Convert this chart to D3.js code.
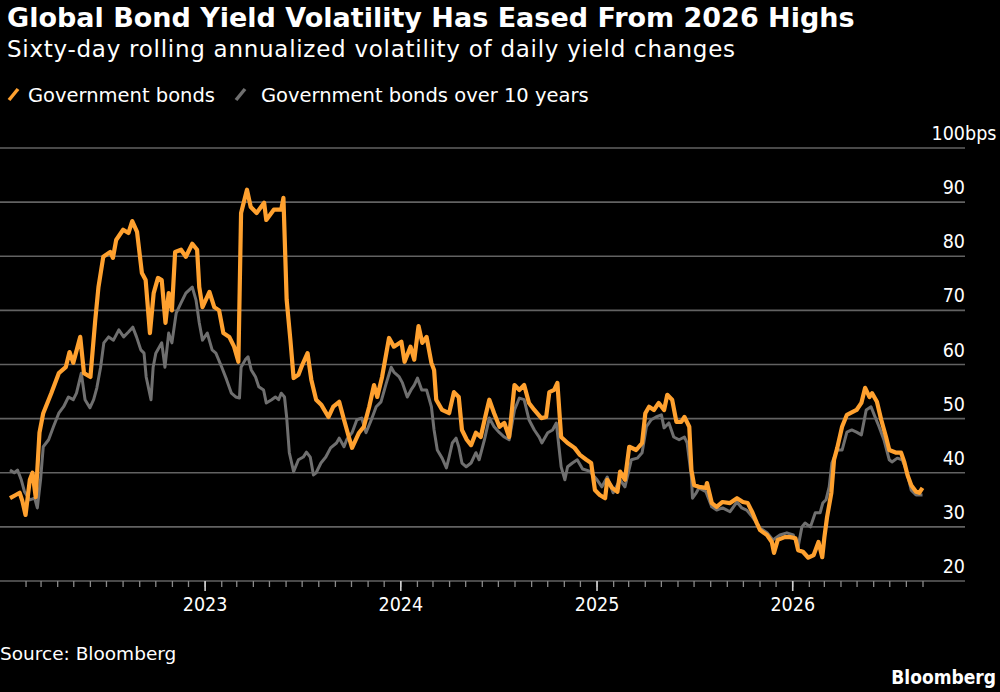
<!DOCTYPE html>
<html>
<head>
<meta charset="utf-8">
<script src="https://cdn.jsdelivr.net/npm/d3@7"></script>
<style>
  html, body { margin: 0; padding: 0; background: #000; }
  svg { display: block; }
  text { font-family: "DejaVu Sans Condensed", "DejaVu Sans", sans-serif; font-stretch: condensed; fill: #fff; }
  text.wide { font-family: "DejaVu Sans", sans-serif; font-stretch: normal; }
</style>
</head>
<body>
<svg width="1000" height="692"></svg>
<script>
// values (bps)
const govBonds = [
  ['2022-01-03',35.3],['2022-01-12',35.8],['2022-01-21',36.3],['2022-01-26',34.8],['2022-02-01',32.2],['2022-02-09',38.7],
  ['2022-02-14',40],['2022-02-20',35.5],['2022-02-27',47.4],['2022-03-06',51],['2022-03-21',54.7],['2022-04-04',58.4],
  ['2022-04-17',59.5],['2022-04-24',62.3],['2022-05-01',60.3],['2022-05-14',65.1],['2022-05-21',58.4],['2022-06-02',57.7],
  ['2022-06-11',68.2],['2022-06-17',74.3],['2022-06-26',79.9],['2022-07-09',80.8],['2022-07-14',79.7],['2022-07-20',83],
  ['2022-08-02',84.9],['2022-08-12',84.3],['2022-08-19',86.5],['2022-08-28',84.5],['2022-09-06',76.9],['2022-09-13',75.6],
  ['2022-09-21',65.8],['2022-09-28',73.2],['2022-10-06',76],['2022-10-13',75.6],['2022-10-20',67.7],['2022-10-26',73.2],
  ['2022-11-01',70],['2022-11-07',80.8],['2022-11-18',81.2],['2022-11-27',79.9],['2022-12-09',82.3],['2022-12-18',81.2],
  ['2022-12-22',74.3],['2022-12-28',70.6],['2023-01-10',73.4],['2023-01-19',70.6],['2023-01-28',70],['2023-02-05',65.8],
  ['2023-02-16',65.1],['2023-02-25',63.3],['2023-03-05',60.5],['2023-03-10',88],['2023-03-21',92.3],['2023-03-28',89.1],
  ['2023-04-08',88],['2023-04-22',89.9],['2023-04-26',86.7],['2023-05-10',88.6],['2023-05-24',88.6],['2023-05-28',90.8],
  ['2023-06-03',72],['2023-06-10',64.5],['2023-06-16',57.5],['2023-06-25',58.1],['2023-07-02',59.9],['2023-07-12',62.1],
  ['2023-07-19',57.2],['2023-07-28',53.5],['2023-08-07',52.5],['2023-08-20',50.3],['2023-08-29',52.2],['2023-09-09',53.1],
  ['2023-09-18',49.8],['2023-09-27',46.6],['2023-10-03',44.6],['2023-10-16',47.4],['2023-10-25',48.5],['2023-11-04',52.2],
  ['2023-11-13',56.2],['2023-11-19',54],['2023-11-28',57.7],['2023-12-11',64.9],['2023-12-20',63.3],['2024-01-03',64.2],
  ['2024-01-09',60.5],['2024-01-20',63.3],['2024-01-27',60.9],['2024-02-04',67.1],['2024-02-11',64],['2024-02-19',65.1],
  ['2024-02-28',60.3],['2024-03-04',59],['2024-03-08',53.5],['2024-03-19',51.6],['2024-04-01',51],['2024-04-10',54.9],
  ['2024-04-19',54],['2024-04-25',47.9],['2024-05-04',46.1],['2024-05-12',45.1],['2024-05-21',47.4],['2024-05-30',46.6],
  ['2024-06-09',51],['2024-06-15',53.5],['2024-06-24',51],['2024-07-04',48.5],['2024-07-13',49.2],['2024-07-22',46.6],
  ['2024-08-01',56.2],['2024-08-10',55.3],['2024-08-19',56.2],['2024-08-28',52.9],['2024-09-07',51.6],['2024-09-20',50.1],
  ['2024-09-29',50.3],['2024-10-05',54.9],['2024-10-14',55.3],['2024-10-20',56.6],['2024-10-27',46.6],['2024-11-08',45.5],
  ['2024-11-21',44.6],['2024-12-01',43.3],['2024-12-13',42.4],['2024-12-22',41.8],['2024-12-29',36.8],['2025-01-07',35.9],
  ['2025-01-17',35.3],['2025-01-21',38.7],['2025-01-30',37.2],['2025-02-09',36.5],['2025-02-14',40.2],['2025-02-23',38.7],
  ['2025-03-03',44.8],['2025-03-16',44.2],['2025-03-27',45.5],['2025-04-02',51],['2025-04-09',52.2],['2025-04-18',51.6],
  ['2025-04-27',52.9],['2025-05-07',51.6],['2025-05-13',54.4],['2025-05-22',53.5],['2025-05-30',49.4],['2025-06-08',49.4],
  ['2025-06-14',50.3],['2025-06-23',48.5],['2025-06-27',40.5],['2025-07-02',37.7],['2025-07-11',37.4],['2025-07-24',37.2],
  ['2025-07-26',38.1],['2025-08-04',34.4],['2025-08-13',33.7],['2025-08-24',34.6],['2025-09-07',34.4],['2025-09-20',35.3],
  ['2025-10-01',34.6],['2025-10-10',34.4],['2025-10-19',32.6],['2025-10-27',30.7],['2025-11-02',29.4],['2025-11-15',28.5],
  ['2025-11-24',27.2],['2025-11-28',25.2],['2025-12-05',27.6],['2025-12-18',28.1],['2025-12-28',28.1],['2026-01-07',27.9],
  ['2026-01-12',25.7],['2026-01-21',25.4],['2026-01-31',24.3],['2026-02-10',24.8],['2026-02-19',27.2],['2026-02-26',24.4],
  ['2026-03-02',28.1],['2026-03-07',31.8],['2026-03-15',36.3],['2026-03-20',42.4],['2026-03-26',44.6],['2026-04-04',48.5],
  ['2026-04-13',50.7],['2026-05-01',51.6],['2026-05-10',52.9],['2026-05-17',55.7],['2026-05-25',54],['2026-05-30',54.7],
  ['2026-06-08',53.1],['2026-06-16',49.8],['2026-06-25',46.6],['2026-07-01',44.2],['2026-07-14',43.7],['2026-07-23',43.7],
  ['2026-07-29',42],['2026-08-04',39.6],['2026-08-11',37.7],['2026-08-20',36.5],['2026-08-26',36.3],['2026-09-01',37.2]
]

const govBonds10y = [
  ['2022-01-03',40.5],['2022-01-11',40],['2022-01-17',40.5],['2022-01-24',38.7],['2022-01-30',36.5],['2022-02-09',35],
  ['2022-02-18',35.3],['2022-02-23',33.5],['2022-03-01',38.7],['2022-03-06',44.8],['2022-03-16',46.1],['2022-03-25',48.5],
  ['2022-04-04',51],['2022-04-13',52.2],['2022-04-22',54],['2022-05-01',53.5],['2022-05-07',54.7],['2022-05-16',58.4],
  ['2022-05-23',53.5],['2022-06-01',52],['2022-06-08',53.5],['2022-06-14',55.7],['2022-06-21',59.5],['2022-06-27',64],
  ['2022-07-06',65.1],['2022-07-15',64.5],['2022-07-25',66.4],['2022-08-03',65.1],['2022-08-12',66],['2022-08-20',66.9],
  ['2022-08-27',65.1],['2022-09-04',62.7],['2022-09-10',62.1],['2022-09-14',57.7],['2022-09-23',53.5],['2022-09-27',59.5],
  ['2022-10-02',62.1],['2022-10-13',64],['2022-10-19',59.5],['2022-10-26',65.8],['2022-11-01',64],['2022-11-09',69.5],
  ['2022-11-18',71.4],['2022-11-27',73.2],['2022-12-09',74.3],['2022-12-16',71.9],['2022-12-22',67.7],['2022-12-28',64.5],
  ['2023-01-06',65.8],['2023-01-15',62.7],['2023-01-22',62.1],['2023-02-02',59.5],['2023-02-11',57.2],['2023-02-20',54.7],
  ['2023-02-28',54],['2023-03-07',53.8],['2023-03-10',59.5],['2023-03-18',60.9],['2023-03-23',61.4],['2023-03-29',59],
  ['2023-04-06',57.7],['2023-04-12',55.9],['2023-04-21',55.3],['2023-04-26',52.9],['2023-05-06',53.5],['2023-05-13',54],
  ['2023-05-19',53.5],['2023-05-24',54.7],['2023-05-30',54],['2023-06-03',50.3],['2023-06-08',43.7],['2023-06-16',40.2],
  ['2023-06-25',42.4],['2023-07-04',42.9],['2023-07-10',43.8],['2023-07-17',42.9],['2023-07-23',39.6],['2023-07-28',40],
  ['2023-08-06',41.8],['2023-08-15',42.9],['2023-08-24',44.6],['2023-09-04',45.5],['2023-09-09',46.4],['2023-09-18',44.8],
  ['2023-09-23',46.1],['2023-10-03',47.4],['2023-10-12',49.8],['2023-10-21',50.1],['2023-10-29',47.4],['2023-11-08',49.8],
  ['2023-11-17',52.2],['2023-11-26',53.1],['2023-12-06',56.6],['2023-12-15',59.5],['2023-12-20',58.6],['2023-12-30',57.7],
  ['2024-01-05',56.6],['2024-01-14',54],['2024-01-21',55.3],['2024-01-27',56.2],['2024-02-02',57.5],['2024-02-10',55.3],
  ['2024-02-19',55.3],['2024-02-28',52.2],['2024-03-04',47.9],['2024-03-10',44.2],['2024-03-19',42.7],['2024-03-27',40.9],
  ['2024-04-01',42.9],['2024-04-07',45.5],['2024-04-14',46.4],['2024-04-19',44.8],['2024-04-25',41.8],['2024-05-03',41.1],
  ['2024-05-12',41.8],['2024-05-21',43.7],['2024-05-27',42.4],['2024-06-06',46.1],['2024-06-15',50.1],['2024-06-24',48.5],
  ['2024-07-04',47.4],['2024-07-13',46.6],['2024-07-22',46.1],['2024-08-01',51.6],['2024-08-10',53.8],['2024-08-19',53.5],
  ['2024-08-28',49.8],['2024-09-07',47.9],['2024-09-16',46.6],['2024-09-21',45.5],['2024-10-02',47.4],['2024-10-11',47.9],
  ['2024-10-18',49.2],['2024-10-27',41.1],['2024-11-03',38.7],['2024-11-08',41.1],['2024-11-17',41.8],['2024-11-26',42.4],
  ['2024-12-06',40.7],['2024-12-19',40.3],['2025-01-02',38.7],['2025-01-11',37.4],['2025-01-21',39.2],['2025-02-01',36.3],
  ['2025-02-14',38.7],['2025-02-23',37.4],['2025-03-07',42.4],['2025-03-18',42.7],['2025-03-27',43.7],['2025-04-04',48.5],
  ['2025-04-13',49.8],['2025-04-22',50.3],['2025-05-02',50.7],['2025-05-07',48.3],['2025-05-16',49.2],['2025-05-25',46.6],
  ['2025-06-04',46.1],['2025-06-14',46.6],['2025-06-19',45.5],['2025-06-27',39.2],['2025-06-29',35.3],['2025-07-06',36.3],
  ['2025-07-11',37.2],['2025-07-24',36.5],['2025-08-04',33.7],['2025-08-13',33.1],['2025-08-24',33.5],['2025-09-07',32.8],
  ['2025-09-20',34.6],['2025-09-29',33.5],['2025-10-08',33.1],['2025-10-19',31.8],['2025-11-02',29.8],['2025-11-15',28.9],
  ['2025-11-26',27.6],['2025-12-09',28.5],['2025-12-22',28.9],['2026-01-03',28.5],['2026-01-12',26.3],['2026-01-19',30],
  ['2026-01-25',30.7],['2026-02-04',30],['2026-02-13',32.6],['2026-02-22',32.6],['2026-02-27',34.4],['2026-03-05',35],
  ['2026-03-11',37.4],['2026-03-16',41.8],['2026-03-26',44.2],['2026-04-04',44.2],['2026-04-13',47.5],['2026-04-22',47.9],
  ['2026-05-01',47.5],['2026-05-10',47],['2026-05-19',51.6],['2026-05-28',52.2],['2026-06-03',50.7],['2026-06-12',48.5],
  ['2026-06-21',46.1],['2026-07-01',42.4],['2026-07-06',42],['2026-07-16',42.7],['2026-07-25',42.4],['2026-08-02',40.5],
  ['2026-08-11',36.8],['2026-08-20',35.9],['2026-09-01',35.9]
]

const yTicks = [20, 30, 40, 50, 60, 70, 80, 90, 100]
const seriesNames = ['Government bonds', 'Government bonds over 10 years']
const seriesColors = ['#ffa12f', '#6f6f6f']

const title = 'Global Bond Yield Volatility Has Eased From 2026 Highs'
const subtitle = 'Sixty-day rolling annualized volatility of daily yield changes'

const svg = d3.select('svg')
const parse = d3.timeParse('%Y-%m-%d')

const series = [govBonds, govBonds10y].map(s => s.map(([d, v]) => ({ date: parse(d), value: v })))

const plotRight = 965

const x = d3.scaleTime()
    .domain([parse('2022-01-03'), parse('2026-09-01')])
    .range([10, 922.5])

const y = d3.scaleLinear()
    .domain([20, 100])
    .range([581, 148])

// header
svg.append('text')
    .attr('class', 'wide')
    .attr('x', 7).attr('y', 27)
    .style('font-size', '27px').style('font-weight', 'bold')
    .text(title)

svg.append('text')
    .attr('class', 'wide')
    .attr('x', 7).attr('y', 57)
    .style('font-size', '23px')
    .style('letter-spacing', '0.73px')
    .text(subtitle)

// legend
const legendPos = [{ s: 9, t: 28 }, { s: 236, t: 261 }]
seriesNames.forEach((name, i) => {
    const p = legendPos[i]
    svg.append('line')
        .attr('x1', p.s).attr('y1', 100).attr('x2', p.s + 9).attr('y2', 89)
        .attr('stroke', seriesColors[i])
        .attr('stroke-width', 3.5)
    svg.append('text')
        .attr('class', 'wide')
        .attr('x', p.t).attr('y', 102)
        .style('font-size', '19.5px')
        .text(name)
})

// gridlines + right labels
const grid = svg.append('g')
grid.selectAll('line')
    .data(yTicks)
    .enter()
    .append('line')
    .attr('x1', 0).attr('x2', plotRight)
    .attr('y1', d => y(d)).attr('y2', d => y(d))
    .attr('stroke', '#626262')
    .attr('stroke-width', 1.7)

grid.selectAll('text.tick-label')
    .data(yTicks)
    .enter()
    .append('text')
    .attr('class', 'tick-label')
    .attr('x', plotRight)
    .attr('y', d => y(d) - 8)
    .attr('text-anchor', 'end')
    .style('font-size', '19.5px')
    .text(d => d)

// unit sits past the right edge of the top label
grid.append('text')
    .attr('x', plotRight)
    .attr('y', y(100) - 8)
    .style('font-size', '19.5px')
    .text('bps')

// x axis: monthly minor ticks, yearly labels
const xAxisMinor = d3.axisBottom(x)
    .ticks(d3.timeMonth.every(1))
    .tickSize(6)
    .tickFormat('')

const xAxisMajor = d3.axisBottom(x)
    .ticks(d3.timeYear.every(1))
    .tickSize(10)
    .tickPadding(6)
    .tickFormat(d3.timeFormat('%Y'))

const gMinor = svg.append('g')
    .attr('transform', `translate(0,${y(20)})`)
    .call(xAxisMinor)
const gMajor = svg.append('g')
    .attr('transform', `translate(0,${y(20)})`)
    .call(xAxisMajor)

;[gMinor, gMajor].forEach(g => {
    g.select('.domain').remove()
    g.selectAll('line').attr('stroke', '#8a8a8a').attr('stroke-width', 1.3)
    g.selectAll('text')
        .style('font-size', '19.5px')
        .attr('fill', '#fff')
        .style('font-family', '"DejaVu Sans Condensed", "DejaVu Sans", sans-serif')
})
gMajor.selectAll('line').attr('stroke', '#d0d0d0').attr('stroke-width', 1.6)

// lines
const line = d3.line()
    .x(d => x(d.date))
    .y(d => y(d.value))

const lineWidths = [4.2, 3]
svg.append('g')
    .selectAll('path')
    .data([series[1], series[0]])
    .enter()
    .append('path')
    .attr('d', line)
    .attr('fill', 'none')
    .attr('stroke', (d, i) => seriesColors[1 - i])
    .attr('stroke-width', (d, i) => lineWidths[1 - i])
    .attr('stroke-linejoin', 'round')

// footer
svg.append('text')
    .attr('class', 'wide')
    .attr('x', 0).attr('y', 660)
    .style('font-size', '18.5px')
    .text('Source: Bloomberg')

svg.append('text')
    .attr('x', 996).attr('y', 684)
    .attr('text-anchor', 'end')
    .style('font-size', '19px').style('font-weight', 'bold')
    .text('Bloomberg')
</script>
</body>
</html>
